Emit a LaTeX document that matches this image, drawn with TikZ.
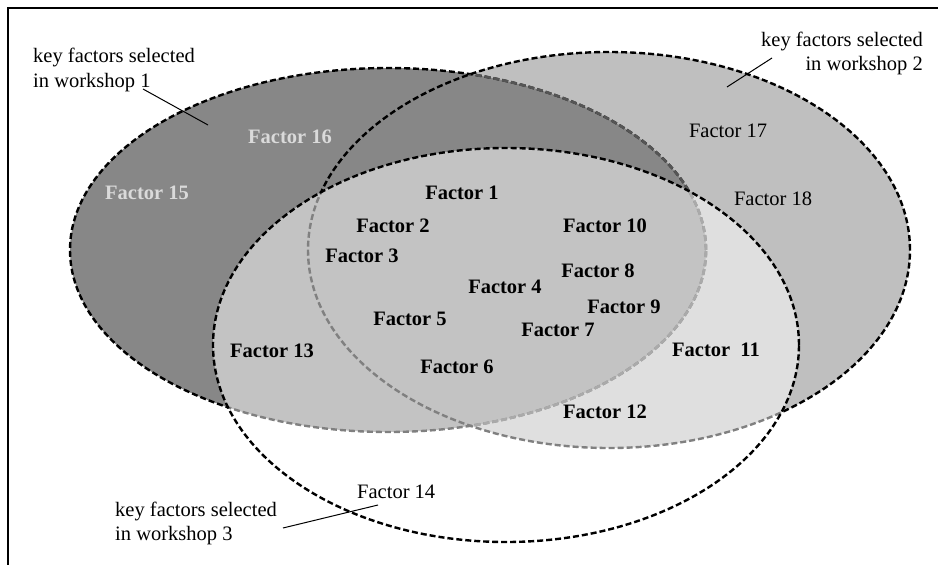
\documentclass[tikz,border=0pt]{standalone}
\usepackage{fontspec}
\setmainfont{Liberation Serif}
\begin{document}
\begin{tikzpicture}[x=1pt,y=-1pt,
  bd/.style={dash pattern=on 6pt off 3pt, line width=2.4pt},
  lbl/.style={inner sep=0pt, font=\fontsize{20.5}{24}\selectfont},
  fb/.style={inner sep=0pt, font=\fontsize{20.5}{24}\selectfont\bfseries, anchor=base},
  fr/.style={lbl, anchor=base},
  fl/.style={fb, text=lightlbl},
  leader/.style={line width=1pt, black}]
\definecolor{eonefill}{HTML}{878787}
\definecolor{etwofill}{HTML}{BFBFBF}
\definecolor{innerline}{HTML}{555555}
\definecolor{lightlbl}{HTML}{DADADA}
\useasboundingbox (0,0) rectangle (938,565);
\def\Eone{(388,250) ellipse [x radius=318pt, y radius=182pt]}
\def\Etwo{(609,250) ellipse [x radius=301pt, y radius=198pt]}
\def\Ethree{(506,345) ellipse [x radius=293pt, y radius=197pt]}
% fills
\fill[etwofill] \Etwo;
\fill[eonefill] \Eone;
% borders of E1
\draw[bd, black] \Eone;
\begin{scope}
  \clip \Etwo;
  \draw[bd, innerline, line width=2.7pt] \Eone;
\end{scope}
\draw[bd, black] \Etwo;
% E3 translucent white
\fill[white, opacity=0.5] \Ethree;
\draw[bd, black] \Ethree;
% frame
\draw[line width=2.2pt] (8,565) -- (8,8) -- (938,8);
% annotations
\node[lbl, anchor=base west] (w1a) at (33,62) {key factors selected};
\node[lbl, anchor=base west] (w1b) at (33,87) {in workshop 1};
\node[lbl, anchor=base east] (w2a) at (923,46) {key factors selected};
\node[lbl, anchor=base east] (w2b) at (923,70) {in workshop 2};
\node[lbl, anchor=base west] (w3a) at (115,516) {key factors selected};
\node[lbl, anchor=base west] (w3b) at (115,540) {in workshop 3};
\coordinate (l1s) at (143,89);
\coordinate (l1e) at (208,125);
\coordinate (l2s) at (772,58);
\coordinate (l2e) at (727,87);
\coordinate (l3s) at (283,528);
\coordinate (l3e) at (378,505);
\draw[leader] (l1s) -- (l1e);
\draw[leader] (l2s) -- (l2e);
\draw[leader] (l3s) -- (l3e);
% factors
\node[fb] (f1) at (462,199) {Factor 1};
\node[fb] (f2) at (393,232) {Factor 2};
\node[fb] (f3) at (362,262) {Factor 3};
\node[fb] (f4) at (505,293) {Factor 4};
\node[fb] (f5) at (410,325) {Factor 5};
\node[fb] (f6) at (457,373) {Factor 6};
\node[fb] (f7) at (558,336) {Factor 7};
\node[fb] (f8) at (598,277) {Factor 8};
\node[fb] (f9) at (624,313) {Factor 9};
\node[fb] (f10) at (605,232) {Factor 10};
\node[fb] (f11) at (716,356) {Factor\ \ 11};
\node[fb] (f12) at (605,418) {Factor 12};
\node[fb] (f13) at (272,357) {Factor 13};
\node[lbl, anchor=base west] (f14) at (357,498) {Factor 14};
\node[fl] (f15) at (147,199) {Factor 15};
\node[fl] (f16) at (290,143) {Factor 16};
\node[fr] (f17) at (728,137) {Factor 17};
\node[fr] (f18) at (773,205) {Factor 18};
\end{tikzpicture}
\end{document}
